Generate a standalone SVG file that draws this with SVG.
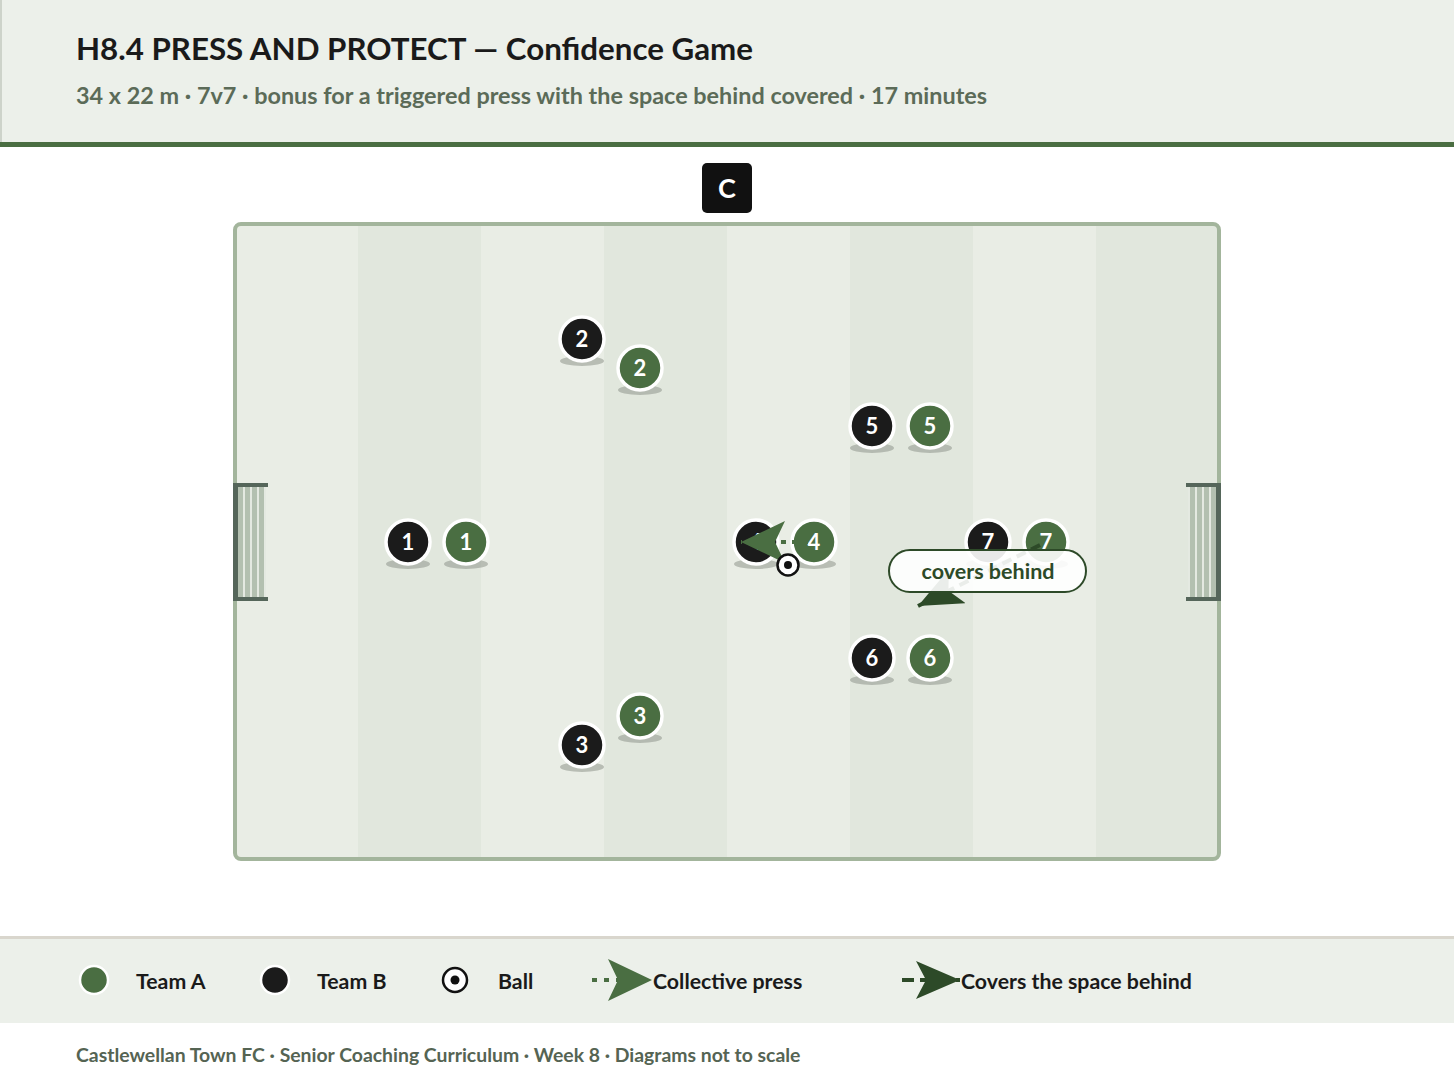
<svg xmlns="http://www.w3.org/2000/svg" width="1454" height="1080" viewBox="0 0 1454 1080">
<defs>
<style>
.t{font-family:Lato,"Open Sans","Liberation Sans",sans-serif}
.pB{fill:#1b1b1b;stroke:#fff;stroke-width:3.5}
.pA{fill:#4a6e42;stroke:#fff;stroke-width:3.5}
.sh{fill:#8f968c;opacity:0.55}
.num{font-family:Lato,"Liberation Sans",sans-serif;font-weight:700;font-size:22px;fill:#fff;text-anchor:middle}
.leg{font-family:Lato,"Liberation Sans",sans-serif;font-weight:700;font-size:21.3px;fill:#1a1a1a}
.s2{fill:#e1e7dd}
</style>
<marker id="mPress" markerUnits="userSpaceOnUse" markerWidth="44" markerHeight="42" refX="44" refY="21" orient="auto" viewBox="0 0 44 42">
<path d="M0,0 L44,21 L0,42 L10,21 z" fill="#4a6e42"/>
</marker>
<marker id="mCover" markerUnits="userSpaceOnUse" markerWidth="44" markerHeight="38" refX="44" refY="19" orient="auto" viewBox="0 0 44 38">
<path d="M0,0 L44,19 L0,38 L10,19 z" fill="#2d4a28"/>
</marker>
<pattern id="net" width="7" height="10" patternUnits="userSpaceOnUse">
<rect width="7" height="10" fill="#b3c0b0"/>
<rect x="5" width="2" height="10" fill="#e4e9e1"/>
</pattern>
</defs>

<!-- header -->
<rect x="0" y="0" width="1454" height="143" fill="#ecf0ea"/>
<rect x="0" y="0" width="2" height="143" fill="#cdd3ca"/>
<rect x="0" y="142" width="1454" height="5" fill="#4a6e42"/>
<text class="t" x="76" y="60" font-size="31.3" font-weight="700" fill="#1a1a1a">H8.4 PRESS AND PROTECT — Confidence Game</text>
<text class="t" x="76" y="104" font-size="23.4" font-weight="700" fill="#5b6b58">34 x 22 m · 7v7 · bonus for a triggered press with the space behind covered · 17 minutes</text>

<!-- coach -->
<g id="coach">
<rect x="702" y="163" width="50" height="50" rx="5" fill="#111"/>
<text class="t" x="727" y="198" font-size="27" font-weight="700" fill="#fff" text-anchor="middle">C</text>
</g>

<!-- pitch -->
<g id="pitch">
<rect x="235" y="224" width="984" height="635" rx="6" fill="#e9ede5"/>
<rect class="s2" x="358" y="224" width="123" height="635"/>
<rect class="s2" x="604" y="224" width="123" height="635"/>
<rect class="s2" x="850" y="224" width="123" height="635"/>
<rect class="s2" x="1096" y="224" width="121" height="635"/>
<rect x="235" y="224" width="984" height="635" rx="6" fill="none" stroke="#a3b59c" stroke-width="4"/>
</g>

<!-- goals -->
<g id="goal-left">
<rect x="235" y="485" width="31" height="114" fill="url(#net)"/>
<rect x="233" y="483" width="5" height="118" fill="#55665a"/>
<rect x="233" y="483" width="35" height="4" fill="#55665a"/>
<rect x="233" y="597" width="35" height="4" fill="#55665a"/>
</g>
<g id="goal-right">
<rect x="1188" y="485" width="31" height="114" fill="url(#net)"/>
<rect x="1216" y="483" width="5" height="118" fill="#55665a"/>
<rect x="1186" y="483" width="35" height="4" fill="#55665a"/>
<rect x="1186" y="597" width="35" height="4" fill="#55665a"/>
</g>

<!-- players -->
<g id="B1"><ellipse class="sh" cx="408" cy="564" rx="22" ry="5"/><circle class="pB" cx="408" cy="542" r="22"/><text class="num" x="408" y="550">1</text></g>
<g id="A1"><ellipse class="sh" cx="466" cy="564" rx="22" ry="5"/><circle class="pA" cx="466" cy="542" r="22"/><text class="num" x="466" y="550">1</text></g>
<g id="B2"><ellipse class="sh" cx="582" cy="361" rx="22" ry="5"/><circle class="pB" cx="582" cy="339" r="22"/><text class="num" x="582" y="347">2</text></g>
<g id="A2"><ellipse class="sh" cx="640" cy="390" rx="22" ry="5"/><circle class="pA" cx="640" cy="368" r="22"/><text class="num" x="640" y="376">2</text></g>
<g id="A3"><ellipse class="sh" cx="640" cy="738" rx="22" ry="5"/><circle class="pA" cx="640" cy="716" r="22"/><text class="num" x="640" y="724">3</text></g>
<g id="B3"><ellipse class="sh" cx="582" cy="767" rx="22" ry="5"/><circle class="pB" cx="582" cy="745" r="22"/><text class="num" x="582" y="753">3</text></g>
<g id="B4"><ellipse class="sh" cx="756" cy="564" rx="22" ry="5"/><circle class="pB" cx="756" cy="542" r="22"/><text class="num" x="756" y="550">4</text></g>
<g id="A4"><ellipse class="sh" cx="814" cy="564" rx="22" ry="5"/><circle class="pA" cx="814" cy="542" r="22"/><text class="num" x="814" y="550">4</text></g>
<g id="B5"><ellipse class="sh" cx="872" cy="448" rx="22" ry="5"/><circle class="pB" cx="872" cy="426" r="22"/><text class="num" x="872" y="434">5</text></g>
<g id="A5"><ellipse class="sh" cx="930" cy="448" rx="22" ry="5"/><circle class="pA" cx="930" cy="426" r="22"/><text class="num" x="930" y="434">5</text></g>
<g id="B6"><ellipse class="sh" cx="872" cy="680" rx="22" ry="5"/><circle class="pB" cx="872" cy="658" r="22"/><text class="num" x="872" y="666">6</text></g>
<g id="A6"><ellipse class="sh" cx="930" cy="680" rx="22" ry="5"/><circle class="pA" cx="930" cy="658" r="22"/><text class="num" x="930" y="666">6</text></g>
<g id="B7"><ellipse class="sh" cx="988" cy="564" rx="22" ry="5"/><circle class="pB" cx="988" cy="542" r="22"/><text class="num" x="988" y="550">7</text></g>
<g id="A7"><ellipse class="sh" cx="1046" cy="564" rx="22" ry="5"/><circle class="pA" cx="1046" cy="542" r="22"/><text class="num" x="1046" y="550">7</text></g>

<!-- connectors -->
<g id="connectors">
<line x1="808" y1="542" x2="741" y2="542" stroke="#4a6e42" stroke-width="4" stroke-dasharray="5 6" marker-end="url(#mPress)"/>
<line x1="1040" y1="545" x2="918" y2="606" stroke="#2d4a28" stroke-width="4" stroke-dasharray="10 6" marker-end="url(#mCover)"/>
</g>

<!-- ball -->
<g id="ball">
<circle cx="788" cy="565" r="10.5" fill="#fff" stroke="#111" stroke-width="2.5"/>
<circle cx="788" cy="565" r="4" fill="#111"/>
</g>

<!-- callout -->
<g id="callout">
<rect x="889" y="550" width="197" height="42" rx="21" fill="#fff" fill-opacity="0.9" stroke="#2d4a28" stroke-width="2"/>
<text class="t" x="988" y="579" font-size="21.5" font-weight="700" fill="#2d4a28" text-anchor="middle">covers behind</text>
</g>

<!-- legend -->
<g id="legend">
<rect x="0" y="938" width="1454" height="85" fill="#ecf0ea"/>
<rect x="0" y="936" width="1454" height="3" fill="#d9d6cd"/>
<circle cx="94" cy="980" r="14" fill="#4a6e42" stroke="#fff" stroke-width="2.5"/>
<text class="leg" x="136" y="989">Team A</text>
<circle cx="275" cy="980" r="14" fill="#1b1b1b" stroke="#fff" stroke-width="2.5"/>
<text class="leg" x="317" y="989">Team B</text>
<circle cx="455" cy="980" r="12" fill="#fff" stroke="#111" stroke-width="2.5"/>
<circle cx="455" cy="980" r="4.5" fill="#111"/>
<text class="leg" x="498" y="989">Ball</text>
<line x1="592" y1="980" x2="652" y2="980" stroke="#4a6e42" stroke-width="4" stroke-dasharray="5 7" marker-end="url(#mPress)"/>
<text class="leg" x="653" y="989">Collective press</text>
<line x1="902" y1="980" x2="960" y2="980" stroke="#2d4a28" stroke-width="4" stroke-dasharray="12 6" marker-end="url(#mCover)"/>
<text class="leg" x="961" y="989">Covers the space behind</text>
</g>

<text class="t" x="76" y="1062" font-size="19.4" font-weight="700" fill="#556453">Castlewellan Town FC · Senior Coaching Curriculum · Week 8 · Diagrams not to scale</text>
</svg>
